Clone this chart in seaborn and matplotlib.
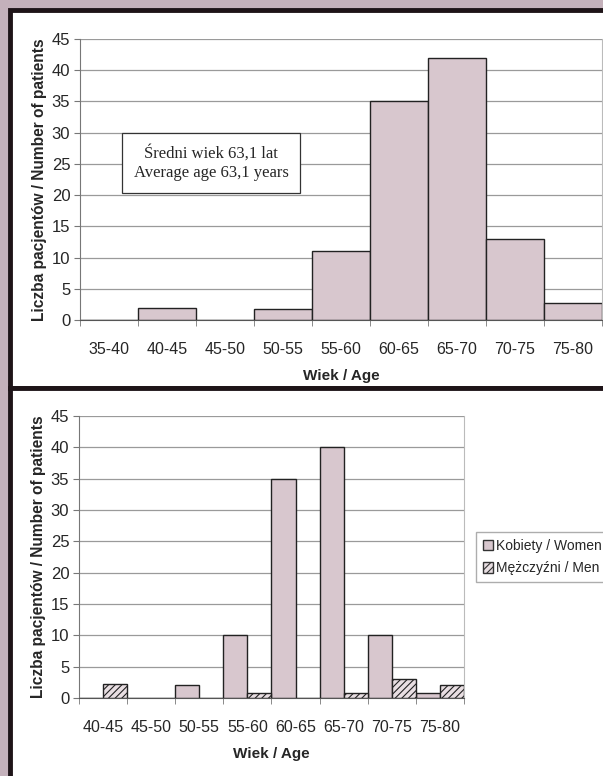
import numpy as np
import pandas as pd
from matplotlib import pyplot as plt
from matplotlib import patches as mpatches
import seaborn as sns

# data
age_all = ['35-40', '40-45', '45-50', '50-55', '55-60', '60-65', '65-70', '70-75', '75-80']
count_all = [0, 2, 0, 1.8, 11, 35, 42, 13, 2.8]

age_sex = ['40-45', '45-50', '50-55', '55-60', '60-65', '65-70', '70-75', '75-80']
women = [0, 0, 2, 10, 35, 40, 10, 0.8]
men = [2.2, 0, 0, 0.8, 0, 0.8, 3, 2]
sex_labels = ['Kobiety / Women', 'Mężczyźni / Men']

sns.set_style('white')
plt.rcParams['font.family'] = ['Liberation Sans Narrow', 'Liberation Sans', 'DejaVu Sans']
plt.rcParams['hatch.color'] = '#9a8e93'
plt.rcParams['hatch.linewidth'] = 0.8

bar_col = '#d8c7ce'
men_col = '#e8dee2'
frame_bg = '#c4b1bb'
grid_col = '#9a9a9a'

fig = plt.figure(figsize=(6.03, 7.76), dpi=100, facecolor=frame_bg)

# white panels with thick dark frames
W, H = 603, 776
for (x0, y0, x1, y1) in [(10, 10, 610, 388), (10, 388, 610, 780)]:
    fig.patches.append(mpatches.Rectangle((x0 / W, 1 - y1 / H), (x1 - x0) / W, (y1 - y0) / H,
                                          transform=fig.transFigure, facecolor='white',
                                          edgecolor='#1e1418', linewidth=3.5, zorder=-5))

def style_axis(ax, n):
    ax.set_ylim(0, 45)
    ax.set_yticks(range(0, 50, 5))
    ax.set_xlim(-0.5, n - 0.5)
    ax.yaxis.grid(True, color=grid_col, linewidth=0.9)
    ax.set_axisbelow(True)
    ax.spines['top'].set_visible(False)
    ax.spines['left'].set_color('#777777')
    ax.spines['bottom'].set_color('#555555')
    ax.spines['right'].set_color('#bbbbbb')
    ax.tick_params(axis='y', left=True, length=4, color='#777777', labelsize=12, pad=3)
    ax.tick_params(axis='x', bottom=False, labelsize=11.5, pad=12)
    ax.set_xticks(np.arange(-0.5, n, 1), minor=True)
    ax.tick_params(axis='x', which='minor', bottom=True, length=4, color='#777777')
    ax.set_ylabel('Liczba pacjentów / Number of patients', fontsize=11.2, fontweight='bold',
                  family=['Liberation Sans', 'DejaVu Sans'], labelpad=3)
    ax.set_xlabel('Wiek / Age', fontsize=11, fontweight='bold',
                  family=['Liberation Sans', 'DejaVu Sans'], labelpad=9)

# top chart: all patients
ax1 = fig.add_axes([80 / W, 1 - 320 / H, 522 / W, 281 / H])
top_df = pd.DataFrame({'Wiek': age_all, 'Liczba': count_all})
sns.barplot(data=top_df, x='Wiek', y='Liczba', color=bar_col, width=1, saturation=1,
            edgecolor='#222222', linewidth=1, ax=ax1)
style_axis(ax1, len(age_all))
ax1.text(211 / W, 1 - 163 / H, 'Średni wiek 63,1 lat\nAverage age 63,1 years',
         transform=fig.transFigure, ha='center', va='center', fontsize=12,
         family=['Liberation Serif', 'DejaVu Serif'], linespacing=1.25,
         bbox=dict(boxstyle='square,pad=0.7', facecolor='white', edgecolor='#333333', linewidth=0.9))

# bottom chart: women vs men
ax2 = fig.add_axes([79 / W, 1 - 698 / H, 385 / W, 282 / H])
sex_df = pd.DataFrame({'Wiek': age_sex * 2,
                       'Liczba': women + men,
                       'Plec': [sex_labels[0]] * len(age_sex) + [sex_labels[1]] * len(age_sex)})
sns.barplot(data=sex_df, x='Wiek', y='Liczba', hue='Plec', hue_order=sex_labels,
            palette=[bar_col, men_col], width=1, saturation=1,
            edgecolor='#222222', linewidth=1, ax=ax2, legend=False)
for bar in ax2.patches[len(age_sex):]:
    bar.set_hatch('/////')
style_axis(ax2, len(age_sex))

handles = [mpatches.Patch(facecolor=bar_col, edgecolor='#333333', label=sex_labels[0]),
           mpatches.Patch(facecolor=men_col, edgecolor='#333333', hatch='/////', label=sex_labels[1])]
fig.legend(handles=handles, loc='upper left', bbox_to_anchor=(476 / W, 1 - 532 / H),
           frameon=True, fontsize=10, handlelength=0.75, handleheight=0.75,
           handletextpad=0.2, borderpad=0.5, labelspacing=0.6, fancybox=False,
           edgecolor='#999999', borderaxespad=0)

fig.savefig('out.png', dpi=100, facecolor=frame_bg)
